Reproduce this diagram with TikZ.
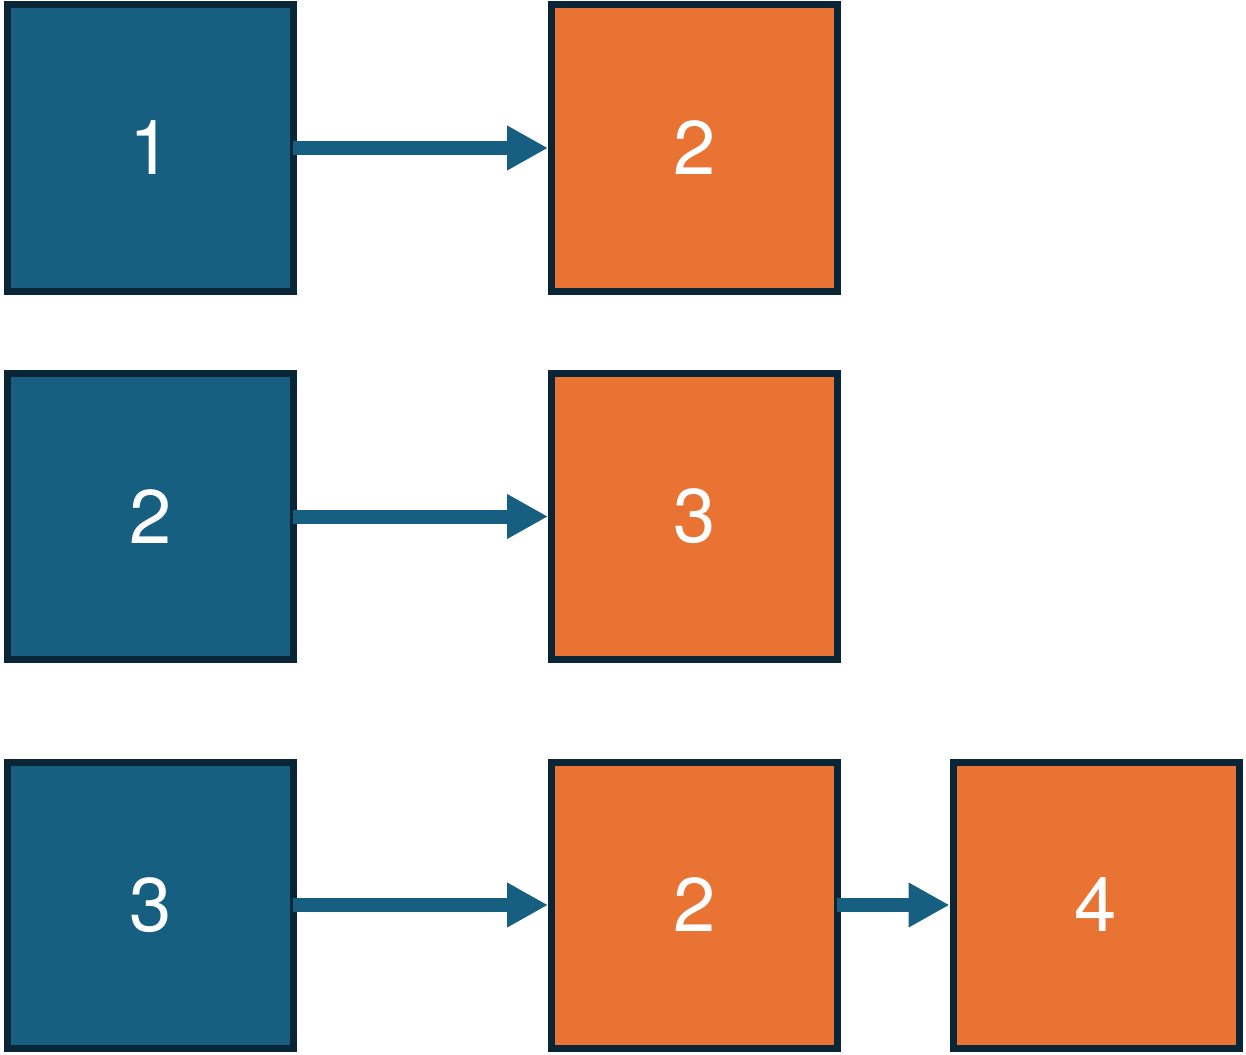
\documentclass[tikz,border=0pt]{standalone}
\usepackage{fontspec}
\setmainfont{TeX Gyre Heros}
\usetikzlibrary{arrows.meta}
\definecolor{bblue}{HTML}{175F80}
\definecolor{bord}{HTML}{0A2536}
\definecolor{borange}{HTML}{E87333}
\tikzset{
  sq/.style={draw=bord, line width=7pt, minimum width=286pt, minimum height=286pt, inner sep=0pt, text=white, font=\fontsize{76}{76}\selectfont},
  bluebox/.style={sq, fill=bblue},
  orangebox/.style={sq, fill=borange},
  conn/.style={draw=bblue, line width=14pt, -{Triangle[length=41pt,width=42pt]}}
}
\begin{document}
\begin{tikzpicture}[x=1pt,y=-1pt]
\useasboundingbox (0,0) rectangle (1246,1054);
\node[bluebox] (b1) at (150.5,148) {1};
\node[orangebox] (o1) at (694.5,148) {2};
\node[bluebox] (b2) at (150.5,516.5) {2};
\node[orangebox] (o2) at (694.5,516.5) {3};
\node[bluebox] (b3) at (150.5,905) {3};
\node[orangebox] (o3) at (694.5,905) {2};
\node[orangebox] (o4) at (1096,905) {4};
\draw[conn] ([xshift=-4pt]b1.east) -- (o1.west);
\draw[conn] ([xshift=-4pt]b2.east) -- (o2.west);
\draw[conn] ([xshift=-4pt]b3.east) -- (o3.west);
\draw[conn] ([xshift=-4pt]o3.east) -- (o4.west);
\end{tikzpicture}
\end{document}
